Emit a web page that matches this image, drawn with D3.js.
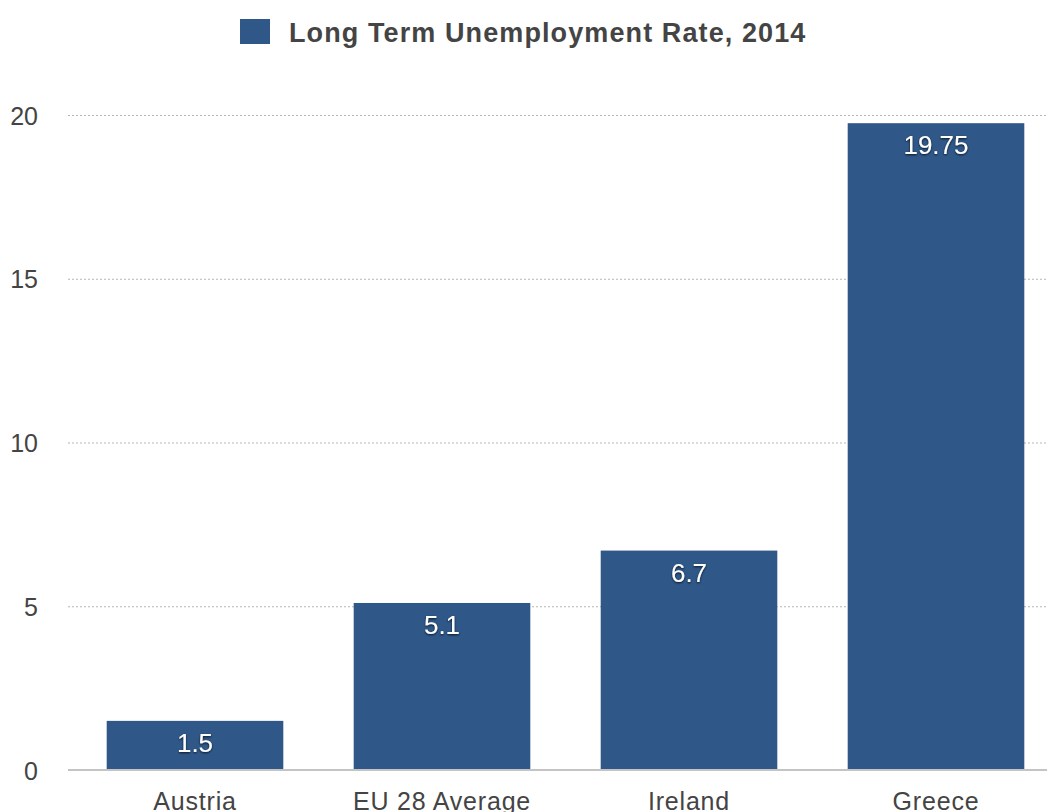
<!DOCTYPE html>
<html>
<head>
<meta charset="utf-8">
<script src="https://cdn.jsdelivr.net/npm/d3@7"></script>
<style>
  body { margin: 0; background: #fff; overflow: hidden; }
  text { font-family: "Liberation Sans", Arial, sans-serif; }
</style>
</head>
<body>
<div id="chart"></div>
<script>
// data
const categories = ['Austria', 'EU 28 Average', 'Ireland', 'Greece'];
const values = [1.5, 5.1, 6.7, 19.75];
const yTicks = [0, 5, 10, 15, 20];
const seriesName = 'Long Term Unemployment Rate, 2014';

const WIDTH = 1047;
const HEIGHT = 812;
const margin = { top: 115, left: 71.5, bottom: 42, right: -12.5 };
const barColor = '#2f5889';

const svg = d3
  .select('#chart')
  .append('svg')
  .attr('width', WIDTH)
  .attr('height', HEIGHT);

const scaleX = d3
  .scaleBand()
  .domain(categories)
  .range([margin.left, WIDTH - margin.right])
  .paddingInner(0.285)
  .paddingOuter(0.1425);

const scaleY = d3
  .scaleLinear()
  .domain([0, 20])
  .range([HEIGHT - margin.bottom, margin.top]);

// grid lines
svg
  .append('g')
  .selectAll('line')
  .data(yTicks.filter((d) => d > 0))
  .join('line')
  .attr('x1', 68)
  .attr('x2', WIDTH)
  .attr('y1', (d) => scaleY(d) + 0.5)
  .attr('y2', (d) => scaleY(d) + 0.5)
  .attr('stroke', '#b5b5b5')
  .attr('stroke-width', 1)
  .attr('stroke-dasharray', '2,2');

// y axis labels
const axisY = d3.axisLeft(scaleY).tickValues(yTicks).tickSize(0).tickPadding(0);
svg
  .append('g')
  .attr('transform', 'translate(38,1)')
  .call(axisY)
  .call((g) => g.select('.domain').remove())
  .selectAll('text')
  .attr('font-size', 25)
  .attr('fill', '#444')
  .attr('font-family', '"Liberation Sans", Arial, sans-serif');

// bars
svg
  .selectAll('.bar')
  .data(values)
  .join('rect')
  .attr('class', 'bar')
  .attr('x', (d, i) => scaleX(categories[i]))
  .attr('y', (d) => scaleY(d))
  .attr('width', scaleX.bandwidth())
  .attr('height', (d) => scaleY(0) - scaleY(d))
  .attr('fill', barColor);

// x axis
const axisX = d3.axisBottom(scaleX).tickSize(0).tickPadding(22);
svg
  .append('g')
  .attr('transform', `translate(0,${scaleY(0)})`)
  .call(axisX)
  .call((g) =>
    g.select('.domain').attr('d', `M68,0H${WIDTH}`).attr('stroke', '#c4c4c4').attr('stroke-width', 2)
  )
  .selectAll('text')
  .attr('font-size', 25)
  .attr('letter-spacing', 0.8)
  .attr('fill', '#444')
  .attr('dy', '0.71em')
  .attr('font-family', '"Liberation Sans", Arial, sans-serif');

// value labels
const defs = svg.append('defs');
const shadow = defs.append('filter').attr('id', 'shadow').attr('x', '-20%').attr('y', '-20%').attr('width', '140%').attr('height', '160%');
shadow
  .append('feDropShadow')
  .attr('dx', 0)
  .attr('dy', 1)
  .attr('stdDeviation', 1.2)
  .attr('flood-color', '#000')
  .attr('flood-opacity', 0.8);

svg
  .selectAll('.label')
  .data(values)
  .join('text')
  .attr('class', 'label')
  .attr('x', (d, i) => scaleX(categories[i]) + scaleX.bandwidth() / 2)
  .attr('y', (d) => scaleY(d) + 31)
  .attr('text-anchor', 'middle')
  .attr('font-size', 26)
  .attr('fill', '#fff')
  .attr('filter', 'url(#shadow)')
  .text((d) => d);

// legend
const legend = svg.append('g');
legend
  .append('rect')
  .attr('x', 240)
  .attr('y', 19)
  .attr('width', 30)
  .attr('height', 25)
  .attr('fill', barColor);
legend
  .append('text')
  .attr('x', 289)
  .attr('y', 42)
  .attr('font-size', 27)
  .attr('letter-spacing', 1.1)
  .attr('font-weight', 'bold')
  .attr('fill', '#444')
  .text(seriesName);
</script>
</body>
</html>
